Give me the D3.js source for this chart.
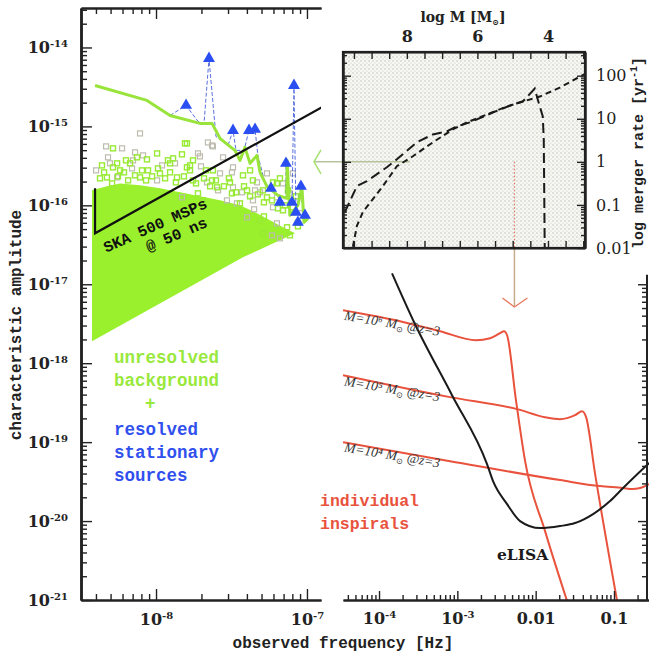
<!DOCTYPE html>
<html>
<head>
<meta charset="utf-8">
<script src="https://cdn.jsdelivr.net/npm/d3@7"></script>
<style>
body { margin: 0; background: #fff; }
</style>
</head>
<body>
<script>
// ---- data (log10 values) ----

// unresolved background: dense region  [log f, log h]
var logBgFill = [[-8.424,-15.810],[-8.325,-15.759],[-8.238,-15.722],[-8.106,-15.747],[-7.974,-15.785],
    [-7.841,-15.835],[-7.709,-15.886],[-7.576,-15.937],[-7.444,-16.0],[-7.344,-16.089],[-7.245,-16.190],
    [-7.146,-16.291],[-7.079,-16.354],[-7.424,-16.658],[-8.424,-17.722]];

// individual background binaries (hollow squares)
var logSqGreen = [[-8.285,-15.278],[-8.126,-15.392],[-8.258,-15.468],[-8.060,-15.418],[-7.887,-15.405],[-7.828,-15.354],
    [-8.285,-15.519],[-8.238,-15.557],[-8.053,-15.557],[-7.907,-15.468],[-7.795,-15.519],[-7.623,-15.557],
    [-7.424,-15.620],[-7.517,-15.658],[-8.325,-15.646],[-8.106,-15.646],[-7.861,-15.646],[-7.755,-15.684],
    [-7.596,-15.772],[-7.397,-15.810],[-7.722,-15.848],[-7.689,-15.937],[-7.444,-15.975],[-7.265,-15.899],
    [-7.225,-15.709],[-7.795,-15.215],[-7.993,-15.342],[-7.755,-15.430],[-8.172,-15.468],[-7.974,-15.595],
    [-7.629,-15.684],[-7.497,-15.848],[-7.358,-15.684],[-7.291,-15.810],[-7.126,-15.810],[-7.159,-16.063],
    [-7.311,-16.190],[-7.132,-16.278],[-7.113,-16.380],[-7.291,-16.354],[-7.808,-15.215],[-7.199,-15.722],
    [-7.775,-15.494],[-7.285,-16.14],[-7.060,-16.22],
    [-8.371,-15.658],[-8.344,-15.582],[-8.291,-15.722],[-8.252,-15.633],[-8.212,-15.582],[-8.185,-15.684],
    [-8.139,-15.620],[-8.093,-15.557],[-8.066,-15.684],[-8.026,-15.633],[-7.987,-15.532],[-7.940,-15.658],
    [-7.907,-15.582],[-7.868,-15.709],[-7.815,-15.633],[-7.775,-15.557],[-7.735,-15.722],[-7.682,-15.658],
    [-7.642,-15.759],[-7.603,-15.684],[-7.550,-15.759],[-7.510,-15.709],[-7.470,-15.835],[-7.417,-15.759],
    [-7.377,-15.886],[-7.325,-15.861],[-7.285,-15.962],[-7.232,-15.937],[-7.192,-16.038],[-7.146,-16.0],
    [-7.099,-16.089],[-7.060,-16.266],[-8.358,-15.494],[-8.199,-15.430],[-7.921,-15.430],[-7.669,-15.557],
    [-7.377,-15.557],[-7.179,-15.658],[-7.073,-15.886]];
var logSqGrey = [[-8.106,-15.089],[-8.331,-15.253],[-8.225,-15.278],[-8.139,-15.329],[-8.318,-15.392],[-8.152,-15.430],
    [-7.709,-15.380],[-7.623,-15.253],[-7.656,-15.203],[-8.397,-15.557],[-8.159,-15.532],[-7.960,-15.494],
    [-7.702,-15.506],[-7.576,-15.595],[-7.490,-15.519],[-7.331,-15.709],[-8.258,-15.646],[-7.993,-15.684],
    [-7.662,-15.709],[-7.490,-15.772],[-7.311,-15.835],[-7.828,-15.899],[-7.530,-15.937],[-7.358,-15.937],
    [-7.199,-15.899],[-7.113,-15.848],[-7.093,-15.595],[-8.086,-15.367],[-7.874,-15.468],[-7.722,-15.342],
    [-8.305,-15.468],[-7.556,-15.392],[-7.589,-15.810],[-7.344,-15.810],[-7.430,-15.835],[-7.265,-15.595],
    [-7.159,-15.722],[-7.464,-15.975],[-7.225,-16.025],[-7.397,-16.152],[-7.199,-16.228],[-7.232,-16.380],
    [-7.179,-16.418],[-7.629,-15.241],[-7.497,-15.582],[-7.040,-16.10],[-7.350,-16.05]];

// background characteristic amplitude (green line)
var logBgLine = [[-8.404,-14.481],[-8.060,-14.671],[-7.907,-14.861],[-7.709,-14.962],[-7.629,-14.962],
    [-7.576,-15.152],[-7.536,-15.215],[-7.477,-15.304],[-7.444,-15.430],[-7.411,-15.266],[-7.377,-15.468],
    [-7.331,-15.367],[-7.311,-15.582],[-7.265,-15.759],[-7.192,-15.873],[-7.132,-15.911],[-7.132,-15.430],
    [-7.113,-16.127],[-7.060,-16.0],[-7.033,-15.772],[-7.020,-16.215],[-6.993,-16.165]];

// resolved sources (blue dashed line + triangles)
var logResLine = [[-7.907,-14.861],[-7.801,-14.734],[-7.722,-14.937],[-7.682,-14.962],[-7.649,-14.139],
    [-7.603,-15.127],[-7.523,-15.241],[-7.490,-15.051],[-7.470,-15.304],[-7.417,-15.304],[-7.384,-15.051],
    [-7.344,-15.038],[-7.325,-15.367],[-7.278,-15.722],[-7.238,-15.785],[-7.192,-15.886],[-7.179,-15.962],
    [-7.139,-15.911],[-7.139,-15.468],[-7.119,-16.0],[-7.099,-15.962],[-7.086,-14.481],[-7.073,-16.089],
    [-7.040,-15.759],[-7.026,-16.089],[-7.013,-16.127],[-6.987,-16.127]];
var logResolved = [[-7.649,-14.139],[-7.801,-14.734],[-7.490,-15.051],[-7.384,-15.051],[-7.344,-15.038],
    [-7.086,-14.481],[-7.139,-15.468],[-7.238,-15.785],[-7.179,-15.962],[-7.099,-15.962],[-7.040,-15.759],
    [-7.073,-16.089],[-7.013,-16.127],[-7.060,-16.215]];

// SKA sensitivity
var logSka = [[-8.404,-15.785],[-8.404,-16.354],[-6.880,-14.735]];

// eLISA sensitivity and inspirals [log f, log h]
var logElisa = [[-3.834,-16.861],[-3.540,-17.506],[-3.068,-18.405],[-2.621,-19.278],[-2.544,-19.494],
    [-2.365,-19.785],[-2.199,-20.0],[-1.944,-20.089],[-1.688,-20.063],[-1.497,-20.025],[-1.267,-19.911],
    [-1.050,-19.747],[-0.884,-19.582],[-0.564,-19.278],[-0.50,-19.22]];
var logInsp6 = [[-4.460,-17.329],[-3.732,-17.468],[-3.221,-17.595],[-2.761,-17.709],[-2.582,-17.684],
    [-2.455,-17.620],[-2.404,-17.595],[-2.365,-17.646],[-2.250,-18.481],[-2.135,-19.241],[-1.880,-20.127],[-1.599,-21.013]];
var logInsp5 = [[-4.460,-18.152],[-3.093,-18.430],[-2.238,-18.582],[-1.880,-18.684],[-1.688,-18.709],
    [-1.497,-18.658],[-1.407,-18.608],[-1.356,-18.684],[-1.241,-19.405],[-0.960,-21.013]];
var logInsp4 = [[-4.460,-19.0],[-3.093,-19.241],[-1.688,-19.481],[-1.178,-19.557],[-0.884,-19.582],
    [-0.769,-19.595],[-0.667,-19.582],[-0.552,-19.532]];
var inspLabels = ["M=10\u2076", "M=10\u2075", "M=10\u2074"];
var inspLabelPos = [[-4.45,-17.45], [-4.45,-18.28], [-4.45,-19.12]];

// inset: merger rate vs log M  [log M, log rate]
var rateCurve1 = [[9.756,-1.164],[9.416,-0.563],[9.133,-0.448],[8.567,-0.125],[8.283,0.060],[7.717,0.453],
    [7.263,0.637],[6.867,0.707],[6.584,0.822],[6.215,0.915],[5.564,1.145],[4.997,1.330],[4.714,1.400],
    [4.374,1.700],[4.289,1.446],[4.147,1.053],[4.119,0.522],[4.091,-2.1]];
var rateCurve2 = [[9.530,-1.972],[9.416,-1.487],[9.246,-1.164],[8.963,-0.864],[8.680,-0.563],[8.283,-0.102],
    [7.830,0.129],[7.263,0.453],[6.697,0.753],[6.300,0.915],[5.734,1.099],[5.167,1.284],[4.714,1.400],
    [4.232,1.515],[3.666,1.723],[3.099,1.977],[2.95,2.04]];
var massTicks = [8, 6, 4];
var rateTicks = [0.01, 0.1, 1, 10, 100];

// ---- setup ----
var p10 = function(v) { return Math.pow(10, v); };
var mono = "'Liberation Mono', 'DejaVu Sans Mono', monospace";
var serif = "'DejaVu Serif', serif";

var svg = d3.select("body").append("svg")
    .attr("width", 649)
    .attr("height", 655);

var xL = d3.scaleLog().domain([p10(-8.497), p10(-6.907)]).range([81, 321]);
var yA = d3.scaleLog().domain([1e-21, p10(-13.5)]).range([600, 8]);
var xR = d3.scaleLog().domain([p10(-4.46), p10(-0.553)]).range([343, 649]);
var xM = d3.scaleLinear().domain([9.81, 2.95]).range([343, 585]);
var yM = d3.scaleLog().domain([0.01, p10(2.55)]).range([248, 52]);

var defs = svg.append("defs");
defs.append("clipPath").attr("id", "clipL").append("rect")
    .attr("x", 81).attr("y", 8).attr("width", 240).attr("height", 592);
defs.append("clipPath").attr("id", "clipR").append("rect")
    .attr("x", 343).attr("y", 262).attr("width", 306).attr("height", 338);
defs.append("clipPath").attr("id", "clipM").append("rect")
    .attr("x", 343).attr("y", 52).attr("width", 242).attr("height", 196);
var pat = defs.append("pattern").attr("id", "dots")
    .attr("width", 4).attr("height", 4).attr("patternUnits", "userSpaceOnUse");
pat.append("rect").attr("width", 4).attr("height", 4).attr("fill", "#f7f7f4");
pat.append("circle").attr("cx", 1).attr("cy", 1).attr("r", 0.65).attr("fill", "#b9b9b0");
pat.append("circle").attr("cx", 3).attr("cy", 3).attr("r", 0.55).attr("fill", "#c9c6b8");

function minorTicks(lo, hi) {
    var out = [];
    for (var k = Math.floor(lo); k <= Math.ceil(hi); k++) {
        for (var m = 2; m <= 9; m++) {
            var v = m * Math.pow(10, k);
            if (Math.log10(v) >= lo && Math.log10(v) <= hi) out.push(v);
        }
    }
    return out;
}
function decades(a, b) { return d3.range(a, b + 1).map(p10); }

function styleAxis(g, width) {
    g.attr("font-family", null).attr("font-size", null);
    g.select(".domain").attr("stroke", "#222").attr("stroke-width", width || 2);
    g.selectAll(".tick line").attr("stroke", "#222").attr("stroke-width", 1.4);
    g.selectAll(".tick text")
        .attr("font-family", serif)
        .attr("font-weight", "bold")
        .attr("font-size", "16px")
        .attr("fill", "#222");
}
function expLabel(text) {
    text.each(function(d) {
        var e = Math.round(Math.log10(d));
        var t = d3.select(this).text(null);
        t.append("tspan").text("10");
        t.append("tspan").attr("dy", "-0.6em").attr("font-size", "10px").text("-" + (-e));
    });
}

var fline = function(xs, ys) {
    return d3.line().x(function(d) { return xs(p10(d[0])); }).y(function(d) { return ys(p10(d[1])); });
};
var lineL = fline(xL, yA);
var lineR = fline(xR, yA);

/*** left panel: PTA band ***/
var gL = svg.append("g").attr("clip-path", "url(#clipL)");

gL.append("path")
    .attr("d", lineL(logBgFill) + "Z")
    .attr("fill", "#9af02c");

gL.selectAll("rect.sqs").data(logSqGrey).enter().append("rect")
    .attr("class", "sqs")
    .attr("x", function(d) { return xL(p10(d[0])) - 2.5; })
    .attr("y", function(d) { return yA(p10(d[1])) - 2.5; })
    .attr("width", 5).attr("height", 5)
    .attr("fill", "none").attr("stroke", "#bdbcae").attr("stroke-width", 1.2);

gL.selectAll("rect.sqg").data(logSqGreen).enter().append("rect")
    .attr("class", "sqg")
    .attr("x", function(d) { return xL(p10(d[0])) - 2.5; })
    .attr("y", function(d) { return yA(p10(d[1])) - 2.5; })
    .attr("width", 5).attr("height", 5)
    .attr("fill", "none").attr("stroke", "#98ea34").attr("stroke-width", 1.4);

gL.append("path")
    .attr("d", lineL(logResLine))
    .attr("fill", "none").attr("stroke", "#5870e0").attr("stroke-width", 1)
    .attr("stroke-dasharray", "4,2");

gL.append("path")
    .attr("d", lineL(logBgLine))
    .attr("fill", "none").attr("stroke", "#98e43a").attr("stroke-width", 3)
    .attr("stroke-linejoin", "round");

gL.append("path")
    .attr("d", lineL(logSka))
    .attr("fill", "none").attr("stroke", "#111").attr("stroke-width", 2.2);

gL.selectAll("path.tri").data(logResolved).enter().append("path")
    .attr("class", "tri")
    .attr("d", d3.symbol(d3.symbolTriangle, 62))
    .attr("transform", function(d) { return "translate(" + xL(p10(d[0])) + "," + yA(p10(d[1])) + ")"; })
    .attr("fill", "#2a4ef2");

// left axes
var gYmaj = svg.append("g").attr("transform", "translate(81,0)")
    .call(d3.axisLeft(yA).tickValues(decades(-21, -14)).tickSizeInner(-11).tickSizeOuter(0).tickPadding(13).tickFormat(""));
styleAxis(gYmaj, 2.5);
gYmaj.selectAll(".tick text").call(expLabel);
var gYmin = svg.append("g").attr("transform", "translate(81,0)")
    .call(d3.axisLeft(yA).tickValues(minorTicks(-21, -13.5)).tickSizeInner(-6).tickSizeOuter(0).tickFormat(""));
styleAxis(gYmin, 2.5);

var gXmaj = svg.append("g").attr("transform", "translate(0,600)")
    .call(d3.axisBottom(xL).tickValues(decades(-8, -7)).tickSizeInner(-11).tickSizeOuter(0).tickPadding(14).tickFormat(""));
styleAxis(gXmaj, 2);
gXmaj.selectAll(".tick text").call(expLabel);
svg.append("g").attr("transform", "translate(0,600)")
    .call(d3.axisBottom(xL).tickValues(minorTicks(-8.497, -6.907)).tickSizeInner(-6).tickSizeOuter(0).tickFormat(""))
    .call(styleAxis, 2);
svg.append("g").attr("transform", "translate(0,8)")
    .call(d3.axisTop(xL).tickValues(decades(-8, -7)).tickSizeInner(-11).tickSizeOuter(0).tickFormat(""))
    .call(styleAxis, 2);
svg.append("g").attr("transform", "translate(0,8)")
    .call(d3.axisTop(xL).tickValues(minorTicks(-8.497, -6.907)).tickSizeInner(-6).tickSizeOuter(0).tickFormat(""))
    .call(styleAxis, 2);

// left panel texts
var skaAt = [xL(p10(-8.33)), yA(p10(-16.60))];
svg.append("text")
    .attr("transform", "translate(" + skaAt[0] + "," + skaAt[1] + ") rotate(-24)")
    .attr("font-family", mono).attr("font-weight", "bold").attr("font-size", "15.5px").attr("fill", "#111")
    .text("SKA 500 MSPs");
var skaAt2 = [xL(p10(-8.05)), yA(p10(-16.59))];
svg.append("text")
    .attr("transform", "translate(" + skaAt2[0] + "," + skaAt2[1] + ") rotate(-23)")
    .attr("font-family", mono).attr("font-weight", "bold").attr("font-size", "15.5px").attr("fill", "#111")
    .text("@ 50 ns");

var legendLines = [
    { t: "unresolved", y: 363, c: "#99e83c" },
    { t: "background", y: 386, c: "#99e83c" },
    { t: "+", y: 409, c: "#99e83c", x: 145 },
    { t: "resolved", y: 435, c: "#3050ee" },
    { t: "stationary", y: 458, c: "#3050ee" },
    { t: "sources", y: 481, c: "#3050ee" }
];
svg.selectAll("text.leg").data(legendLines).enter().append("text")
    .attr("class", "leg")
    .attr("x", function(d) { return d.x || 114; })
    .attr("y", function(d) { return d.y; })
    .attr("font-family", mono).attr("font-weight", "bold").attr("font-size", "17.5px")
    .attr("fill", function(d) { return d.c; })
    .text(function(d) { return d.t; });

svg.append("text")
    .attr("transform", "translate(21,325) rotate(-90)")
    .attr("text-anchor", "middle")
    .attr("font-family", mono).attr("font-weight", "bold").attr("font-size", "16px").attr("fill", "#222")
    .text("characteristic amplitude");
svg.append("text")
    .attr("x", 343).attr("y", 648)
    .attr("text-anchor", "middle")
    .attr("font-family", mono).attr("font-weight", "bold").attr("font-size", "16px").attr("fill", "#222")
    .text("observed frequency [Hz]");

/*** right panel: eLISA band ***/
var gR = svg.append("g").attr("clip-path", "url(#clipR)");
[logInsp6, logInsp5, logInsp4].forEach(function(c) {
    gR.append("path")
        .attr("d", lineR.curve(d3.curveMonotoneX)(c))
        .attr("fill", "none").attr("stroke", "#e9523c").attr("stroke-width", 2);
});
gR.append("path")
    .attr("d", lineR.curve(d3.curveMonotoneX)(logElisa))
    .attr("fill", "none").attr("stroke", "#1a1a1a").attr("stroke-width", 2);

inspLabels.forEach(function(lab, i) {
    var px = xR(p10(inspLabelPos[i][0])), py = yA(p10(inspLabelPos[i][1]));
    var t = svg.append("text")
        .attr("transform", "translate(" + px + "," + py + ") rotate(9.5)")
        .attr("font-family", "'Liberation Serif', serif").attr("font-style", "italic")
        .attr("font-size", "13.5px").attr("fill", "#333");
    t.append("tspan").text(lab + " M");
    t.append("tspan").attr("dy", 3).attr("font-size", "8px").attr("font-family", "'DejaVu Sans'").text("\u2299");
    t.append("tspan").attr("dy", -3).text("  @z=3");
});

svg.append("text").attr("x", 320).attr("y", 506)
    .attr("font-family", mono).attr("font-weight", "bold").attr("font-size", "16.5px").attr("fill", "#e9523c")
    .text("individual");
svg.append("text").attr("x", 320).attr("y", 529)
    .attr("font-family", mono).attr("font-weight", "bold").attr("font-size", "16.5px").attr("fill", "#e9523c")
    .text("inspirals");
svg.append("text").attr("x", 497).attr("y", 560)
    .attr("font-family", serif).attr("font-weight", "bold").attr("font-size", "15.5px").attr("fill", "#1a1a1a")
    .text("eLISA");

// right axes
var gRx = svg.append("g").attr("transform", "translate(0,600)")
    .call(d3.axisBottom(xR).tickValues(decades(-4, -1)).tickSizeInner(-9).tickSizeOuter(0).tickPadding(13)
        .tickFormat(function(d) { return d < 0.005 ? "" : String(d); }));
styleAxis(gRx, 2);
gRx.selectAll(".tick text").filter(function(d) { return d < 0.005; }).call(expLabel);
svg.append("g").attr("transform", "translate(0,600)")
    .call(d3.axisBottom(xR).tickValues(minorTicks(-4.46, -0.553)).tickSizeInner(-5).tickSizeOuter(0).tickFormat(""))
    .call(styleAxis, 2);

var gRy = svg.append("g").attr("transform", "translate(647,0)")
    .call(d3.axisLeft(yA).tickValues(decades(-21, -17)).tickSizeInner(9).tickSizeOuter(0).tickFormat(""));
gRy.call(styleAxis, 2);
gRy.select(".domain").remove();
var gRy2 = svg.append("g").attr("transform", "translate(647,0)")
    .call(d3.axisLeft(yA).tickValues(minorTicks(-21, -17)).tickSizeInner(5).tickSizeOuter(0).tickFormat(""));
gRy2.call(styleAxis, 2);
gRy2.select(".domain").remove();
svg.append("line")
    .attr("x1", 647).attr("x2", 647)
    .attr("y1", yA(p10(-16.88))).attr("y2", 600)
    .attr("stroke", "#222").attr("stroke-width", 2);

/*** inset: merger rate ***/
svg.append("rect")
    .attr("x", 343).attr("y", 52).attr("width", 242).attr("height", 196)
    .attr("fill", "url(#dots)");

// connectors
svg.append("line").attr("x1", 314).attr("x2", 410).attr("y1", yM(1)).attr("y2", yM(1))
    .attr("stroke", "#b5c49c").attr("stroke-width", 1.5);
svg.append("path")
    .attr("d", "M321," + (yM(1) - 12) + "L314," + yM(1) + "L321," + (yM(1) + 12))
    .attr("fill", "none").attr("stroke", "#a6e070").attr("stroke-width", 1.5);
var vx = xM(4.95);
svg.append("line").attr("x1", vx).attr("x2", vx).attr("y1", yM(1)).attr("y2", 248)
    .attr("stroke", "#e07866").attr("stroke-width", 1.2).attr("stroke-dasharray", "1.5,2");
svg.append("line").attr("x1", vx).attr("x2", vx).attr("y1", 248).attr("y2", 306)
    .attr("stroke", "#c8ab8c").attr("stroke-width", 1.5);
svg.append("path")
    .attr("d", "M" + (vx - 12) + ",298L" + vx + ",307L" + (vx + 13) + ",298")
    .attr("fill", "none").attr("stroke", "#e8785c").attr("stroke-width", 1.3);

var lineM = d3.line().x(function(d) { return xM(d[0]); }).y(function(d) { return yM(p10(d[1])); });
var gM = svg.append("g").attr("clip-path", "url(#clipM)");
gM.append("path").attr("d", lineM(rateCurve1))
    .attr("fill", "none").attr("stroke", "#1a1a1a").attr("stroke-width", 2).attr("stroke-dasharray", "10,5");
gM.append("path").attr("d", lineM(rateCurve2))
    .attr("fill", "none").attr("stroke", "#1a1a1a").attr("stroke-width", 2).attr("stroke-dasharray", "6,4");

svg.append("rect")
    .attr("x", 343).attr("y", 52).attr("width", 242).attr("height", 196)
    .attr("fill", "none").attr("stroke", "#1a1a1a").attr("stroke-width", 2.2);

// inset axes
svg.append("g").attr("transform", "translate(343,0)")
    .call(d3.axisLeft(yM).tickValues(rateTicks).tickSizeInner(-8).tickSizeOuter(0).tickFormat(""))
    .call(styleAxis, 2);
svg.append("g").attr("transform", "translate(343,0)")
    .call(d3.axisLeft(yM).tickValues(minorTicks(-2, 2.55)).tickSizeInner(-4).tickSizeOuter(0).tickFormat(""))
    .call(styleAxis, 2);
var gRate = svg.append("g").attr("transform", "translate(585,0)")
    .call(d3.axisRight(yM).tickValues(rateTicks).tickSizeInner(-8).tickSizeOuter(0).tickPadding(11)
        .tickFormat(function(d) { return String(d); }));
gRate.call(styleAxis, 2);
gRate.selectAll(".tick text").attr("font-weight", "normal").attr("font-size", "16px");
svg.append("g").attr("transform", "translate(585,0)")
    .call(d3.axisRight(yM).tickValues(minorTicks(-2, 2.55)).tickSizeInner(-4).tickSizeOuter(0).tickFormat(""))
    .call(styleAxis, 2);
var halfM = d3.range(3, 10, 0.5);
var gMass = svg.append("g").attr("transform", "translate(0,52)")
    .call(d3.axisTop(xM).tickValues(halfM).tickSizeInner(-7).tickSizeOuter(0).tickPadding(10)
        .tickFormat(function(d) { return massTicks.indexOf(d) >= 0 ? String(d) : ""; }));
gMass.call(styleAxis, 2);
gMass.selectAll(".tick text").attr("font-size", "16px");
svg.append("g").attr("transform", "translate(0,248)")
    .call(d3.axisBottom(xM).tickValues(halfM).tickSizeInner(-7).tickSizeOuter(0).tickFormat(""))
    .call(styleAxis, 2);

var tM = svg.append("text").attr("x", 463).attr("y", 22).attr("text-anchor", "middle")
    .attr("font-family", serif).attr("font-weight", "bold").attr("font-size", "14px").attr("fill", "#222");
tM.append("tspan").text("log M [M");
tM.append("tspan").attr("dy", 3).attr("font-size", "8px").text("\u2299");
tM.append("tspan").attr("dy", -3).text("]");

var tR = svg.append("text")
    .attr("transform", "translate(643,153) rotate(-90)")
    .attr("text-anchor", "middle")
    .attr("font-family", mono).attr("font-weight", "bold").attr("font-size", "15px").attr("fill", "#222");
tR.append("tspan").text("log merger rate [yr");
tR.append("tspan").attr("dy", -6).attr("font-size", "10px").text("-1");
tR.append("tspan").attr("dy", 6).text("]");
</script>
</body>
</html>
